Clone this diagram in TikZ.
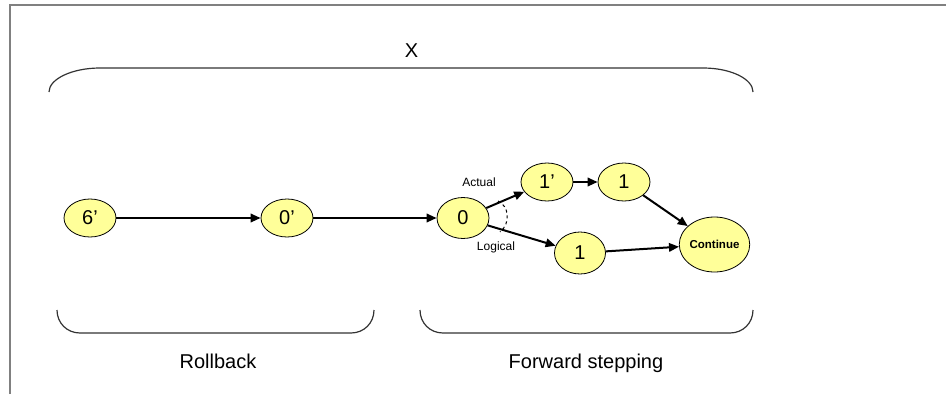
\documentclass[tikz,border=0pt]{standalone}
\usepackage{fontspec}
\setmainfont{Liberation Sans}
\usetikzlibrary{shapes.geometric,arrows.meta}
\definecolor{stateyellow}{RGB}{255,255,153}
\begin{document}
\begin{tikzpicture}[x=1pt,y=-1pt,
  state/.style={ellipse,draw=black,line width=0.8pt,fill=stateyellow,inner sep=0pt,
    minimum width=52pt,minimum height=38pt,font=\fontsize{20}{22}\selectfont},
  flow/.style={line width=2pt,-{Triangle[length=10pt,width=8.5pt]}},
  bracket/.style={line width=1.2pt,draw=black!80},
  caption/.style={font=\fontsize{20}{22}\selectfont,anchor=base,inner sep=0pt},
  tag/.style={font=\fontsize{12}{14}\selectfont,anchor=base,inner sep=0pt}]
\useasboundingbox (0,0) rectangle (946,394);

% frame edges
\draw[gray,line width=2pt] (10,394) -- (10,5) -- (946,5);

% overall bracket and its label
\draw[bracket] (49,92) .. controls (49,79) and (72,68) .. (100,68) -- (703,68)
  .. controls (731,68) and (753,79) .. (753,92);
\node[caption] (xlabel) at (411.5,57) {X};

% phase brackets
\draw[bracket] (57,310) .. controls (57,323) and (67,333) .. (80,333) -- (351,333)
  .. controls (364,333) and (374,323) .. (374,310);
\draw[bracket] (420,310) .. controls (420,323) and (430,333) .. (443,333) -- (730,333)
  .. controls (743,333) and (753,323) .. (753,310);
\node[caption] (rollback) at (218,368) {Rollback};
\node[caption] (forward) at (586,368) {Forward stepping};

% states
\node[state] (s6) at (90,218) {6’};
\node[state] (s0p) at (287,218) {0’};
\node[state,minimum height=41pt] (s0) at (463,218) {0};
\node[state] (s1p) at (547,182) {1’};
\node[state] (s1a) at (624,182) {1};
\node[state,minimum height=42pt,minimum width=51pt] (s1b) at (580,253) {1};
\node[state,minimum width=63pt,minimum height=55pt,
  font=\bfseries\fontsize{11.5}{13}\selectfont] (cont) at (714.5,244.5) {Continue};

% transitions
\draw[flow] (s6) -- (s0p);
\draw[flow] (s0p) -- (s0);
\draw[flow] (s0) -- (s1p);
\draw[flow] (s0) -- (s1b);
\draw[flow] (s1p) -- (s1a);
\draw[flow] (s1a) -- (cont);
\draw[flow] (s1b) -- (cont);

% angle between the two branches
\draw[dashed,line width=1pt] (498,201) .. controls (509,206) and (511,223) .. (500,232);
\node[tag] (actual) at (479,186) {Actual};
\node[tag] (logical) at (496,250) {Logical};
\end{tikzpicture}
\end{document}
